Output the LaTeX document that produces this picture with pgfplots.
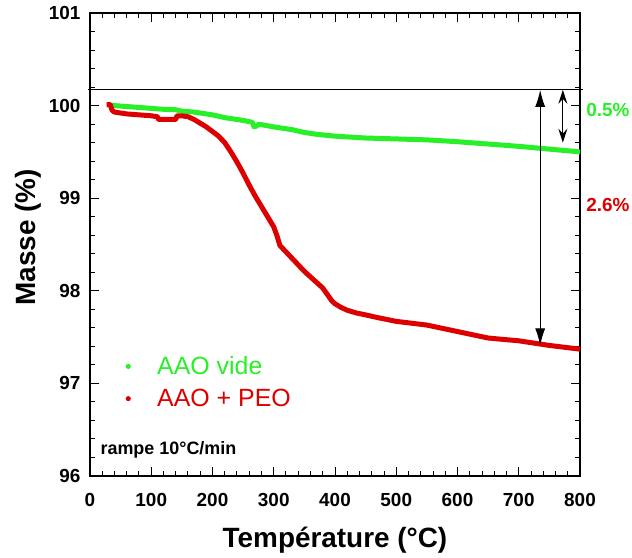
\documentclass[border=0pt]{standalone}
\usepackage{pgfplots}
\pgfplotsset{compat=1.18}
\usepackage{fontspec}
\setmainfont{Liberation Sans}
\usetikzlibrary{arrows.meta}
\definecolor{vgreen}{RGB}{40,240,40}
\definecolor{vred}{RGB}{220,0,0}
\begin{document}
\begin{tikzpicture}
\path[use as bounding box] (-90bp,-82bp) rectangle (542bp,476bp);
\begin{axis}[
  at={(0,0)}, anchor=south west,
  scale only axis, width=490bp, height=463bp,
  xmin=0, xmax=800, ymin=96, ymax=101,
  xtick={0,100,...,800}, ytick={96,97,...,101},
  minor x tick num=4, minor y tick num=4,
  tick align=inside,
  major tick length=9bp, minor tick length=5bp,
  axis line style={line width=1.5bp},
  every tick/.style={black, line width=1bp},
  tick label style={font=\fontsize{19}{19}\selectfont\bfseries},
  /pgf/number format/assume math mode=true,
  xticklabel style={yshift=-14bp},
  yticklabel style={xshift=-6bp},
  xlabel={Température (°C)},
  xlabel style={at={(rel axis cs:0.5,0)}, anchor=center, yshift=-64bp, font=\fontsize{28}{28}\selectfont\bfseries},
  ylabel={Masse (\%)},
  ylabel style={at={(rel axis cs:0,0.516)}, anchor=center, yshift=62bp, font=\fontsize{28}{28}\selectfont\bfseries},
  clip=false,
  legend style={at={(axis cs:49,96.71)}, anchor=south west, draw=none, fill=none,
    font=\fontsize{25}{25}\selectfont, row sep=9bp, inner sep=0pt},
  legend cell align=left,
  legend image code/.code={\node[circle, fill, draw=none, inner sep=1.4bp] at (3bp,0) {}; \path[draw=none, fill=none] (0,0) -- (35bp,0);},
]
\addplot[color=vgreen, line width=5bp, line join=round] coordinates {
(30,100.01) (40,100.00) (60,99.99) (80,99.98) (100,99.97) (120,99.96) (140,99.955)
(150,99.94) (170,99.93) (200,99.90) (220,99.87) (250,99.84) (265,99.82) (268,99.77)
(272,99.78) (275,99.80) (300,99.77) (330,99.74) (350,99.71) (370,99.69) (400,99.67)
(450,99.65) (500,99.64) (550,99.63) (600,99.61) (650,99.585) (700,99.56) (750,99.53) (800,99.50)
};
\addlegendentry{\textcolor{vgreen}{AAO vide}}
\addplot[color=vred, line width=5bp, line join=round] coordinates {
(27,100.01) (33,100.01) (36,99.95) (40,99.93) (60,99.91) (80,99.90) (100,99.89)
(110,99.88) (112,99.85) (140,99.85) (142,99.89) (150,99.89) (160,99.88) (170,99.85)
(180,99.81) (190,99.77) (200,99.72) (210,99.67) (220,99.60) (230,99.50) (240,99.39)
(250,99.27) (260,99.14) (270,99.02) (280,98.91) (290,98.80) (300,98.69) (305,98.60)
(310,98.49) (320,98.42) (330,98.35) (340,98.28) (350,98.21) (365,98.12) (380,98.03)
(395,97.89) (400,97.86) (410,97.82) (420,97.79) (435,97.76) (450,97.74) (470,97.71)
(500,97.67) (550,97.63) (600,97.56) (650,97.49) (700,97.46) (750,97.41) (800,97.37)
};
\addlegendentry{\textcolor{vred}{AAO + PEO}}
\draw[line width=1.2bp] (axis cs:-4,100.176) -- (axis cs:805,100.176);
\draw[line width=1.1bp, {Latex[length=17bp,width=10bp]}-{Latex[length=17bp,width=10bp]}] (axis cs:735,100.17) -- (axis cs:735,97.41);
\draw[line width=1.1bp, {Stealth[length=14bp,width=9bp,inset=5bp]}-{Stealth[length=14bp,width=9bp,inset=5bp]}] (axis cs:772,100.17) -- (axis cs:772,99.6);
\node[anchor=east, text=vgreen, font=\fontsize{19}{19}\selectfont\bfseries, inner sep=0pt] at (axis cs:881,99.95) {0.5\%};
\node[anchor=east, text=vred, font=\fontsize{19}{19}\selectfont\bfseries, inner sep=0pt] at (axis cs:881,98.93) {2.6\%};
\node[anchor=west, font=\fontsize{18}{18}\selectfont\bfseries, inner sep=0pt] at (axis cs:17,96.28) {rampe 10°C/min};
\end{axis}
\end{tikzpicture}
\end{document}
